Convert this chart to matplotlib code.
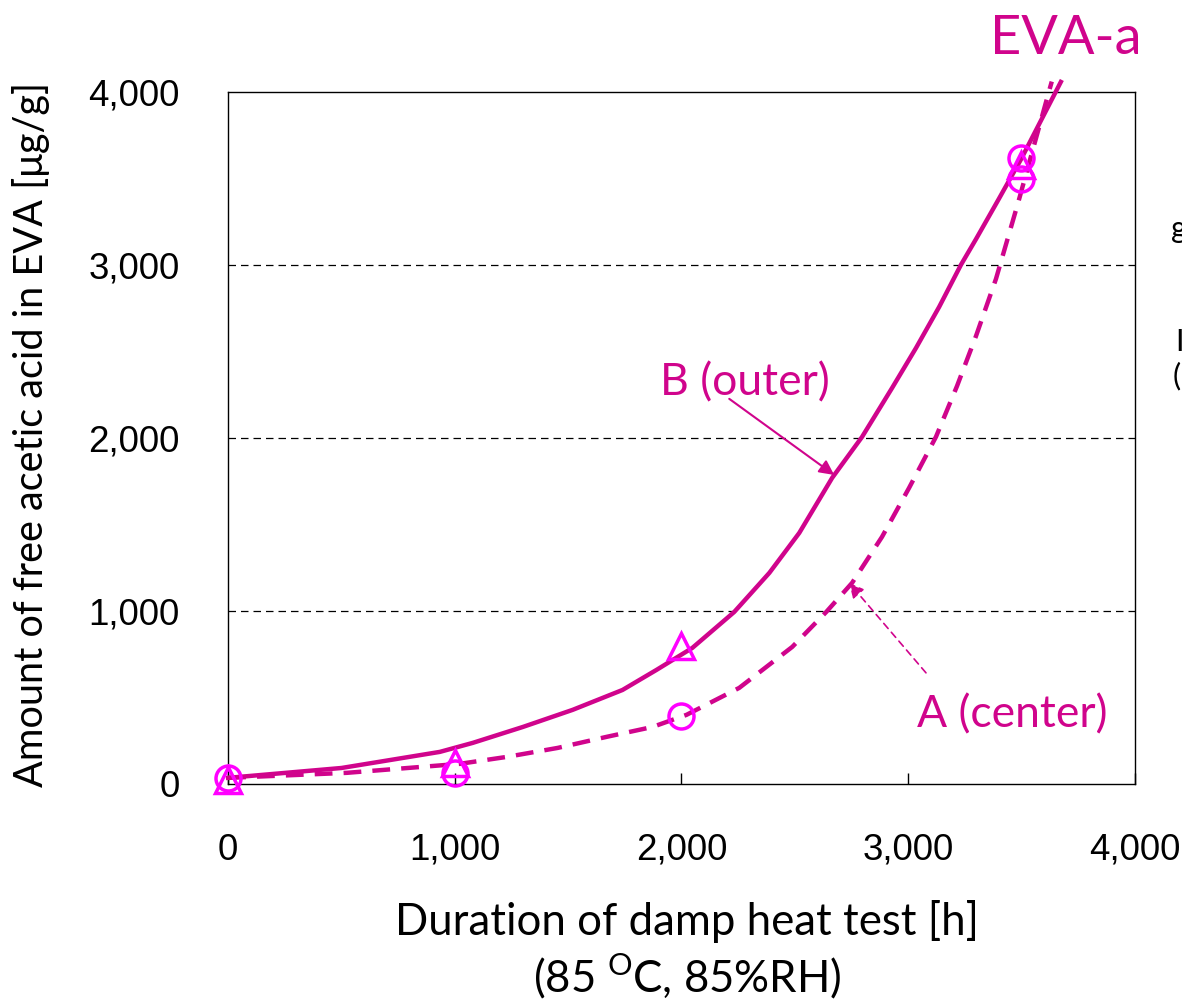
import matplotlib.pyplot as plt

# measured points
hours = [0, 1000, 2000, 3500]
outer_vals = [20, 120, 798, 3578]     # B (outer), triangles
center_vals = [35, 65, 393, 3497]     # A (center), circles
extra_hour = [3500]
extra_val = [3621]

# smooth trend curves
b_curve_x = [0, 500, 934, 1079, 1300, 1520, 1740, 1890, 2048, 2233, 2388, 2520, 2665,
             2797, 2930, 3035, 3137, 3233, 3300, 3401, 3500, 3674]
b_curve_y = [35, 92, 185, 237, 329, 428, 543, 659, 786, 994, 1220, 1451, 1769,
             2006, 2290, 2520, 2757, 3000, 3150, 3383, 3615, 4058]
a_curve_x = [0, 524, 1022, 1229, 1454, 1670, 1872, 2022, 2255, 2489, 2639, 2753, 2885,
             3004, 3123, 3216, 3300, 3388, 3489, 3621, 3634]
a_curve_y = [35, 64, 116, 156, 208, 272, 329, 399, 555, 792, 994, 1162, 1428,
             1710, 2006, 2300, 2590, 2920, 3376, 4000, 4060]

line_col = "#D0048C"
mark_col = "#FF00FF"

fig = plt.figure(figsize=(11.82, 10.05), dpi=100)
ax = fig.add_axes([0.193, 0.220, 0.767, 0.6885])

ax.plot(b_curve_x, b_curve_y, color=line_col, lw=3.2, clip_on=False, zorder=3)
ax.plot(a_curve_x, a_curve_y, color=line_col, lw=3.2, ls=(0, (4, 2.5)), clip_on=False, zorder=3)
ax.plot(hours, outer_vals, ls="none", marker="^", ms=19, mfc="none", mec=mark_col, mew=2.5, clip_on=False, zorder=4)
ax.plot(hours, center_vals, ls="none", marker="o", ms=18, mfc="none", mec=mark_col, mew=2.5, clip_on=False, zorder=4)
ax.plot(extra_hour, extra_val, ls="none", marker="o", ms=18, mfc="none", mec=mark_col, mew=2.5, clip_on=False, zorder=4)

ax.set_xlim(0, 4000)
ax.set_ylim(0, 4000)
ax.set_xticks([0, 1000, 2000, 3000, 4000])
ax.set_yticks([0, 1000, 2000, 3000, 4000])
ax.set_xticklabels(["0", "1,000", "2,000", "3,000", "4,000"], family="Liberation Sans", fontsize=26.5)
ax.set_yticklabels(["0", "1,000", "2,000", "3,000", "4,000"], family="Liberation Sans", fontsize=26.5)
ax.tick_params(axis="x", direction="in", length=8, width=1, pad=35)
ax.tick_params(axis="y", direction="in", length=0, pad=35)
for y in [1000, 2000, 3000]:
    ax.axhline(y, color="black", lw=0.9, ls=(0, (6, 4)), zorder=1)
for s in ax.spines.values():
    s.set_linewidth(1.0)

ax.set_xlabel("Duration of damp heat test [h]\n(85 $^{\\mathregular{O}}$C, 85%RH)",
              family="Lato", fontsize=31.5, linespacing=1.2)
ax.xaxis.set_label_coords(0.506, -0.168)
ax.set_ylabel("Amount of free acetic acid in EVA [\u03bcg/g]", family="Lato", fontsize=28.5)
ax.yaxis.set_label_coords(-0.196, 0.505)

# annotations
ax.annotate("", xy=(2674, 1786), xytext=(2211, 2226),
            arrowprops=dict(arrowstyle="-|>", color=line_col, lw=1.5, mutation_scale=22,
                            shrinkA=0, shrinkB=0))
ax.text(2278, 2318, "B (outer)", color=line_col, family="Lato", fontsize=32, ha="center", va="center")
ax.annotate("", xy=(2740, 1162), xytext=(3079, 642),
            arrowprops=dict(arrowstyle="-|>", color=line_col, lw=1.2, ls=(0, (4, 3)), mutation_scale=22,
                            shrinkA=0, shrinkB=0))
ax.text(3458, 399, "A (center)", color=line_col, family="Lato", fontsize=32, ha="center", va="center")

fig.text(0.902, 0.962, "EVA-a", color=line_col, family="Lato", fontsize=39, ha="center", va="center")

# cut-off text at the right edge
fig.text(0.991, 0.772, "g", color="black", family="Lato", fontsize=22, ha="left", va="center")
fig.text(0.994, 0.66, "I", color="black", family="Lato", fontsize=22, ha="left", va="center")
fig.text(0.992, 0.626, "(", color="black", family="Lato", fontsize=22, ha="left", va="center")

fig.savefig("out.png", dpi=100)
